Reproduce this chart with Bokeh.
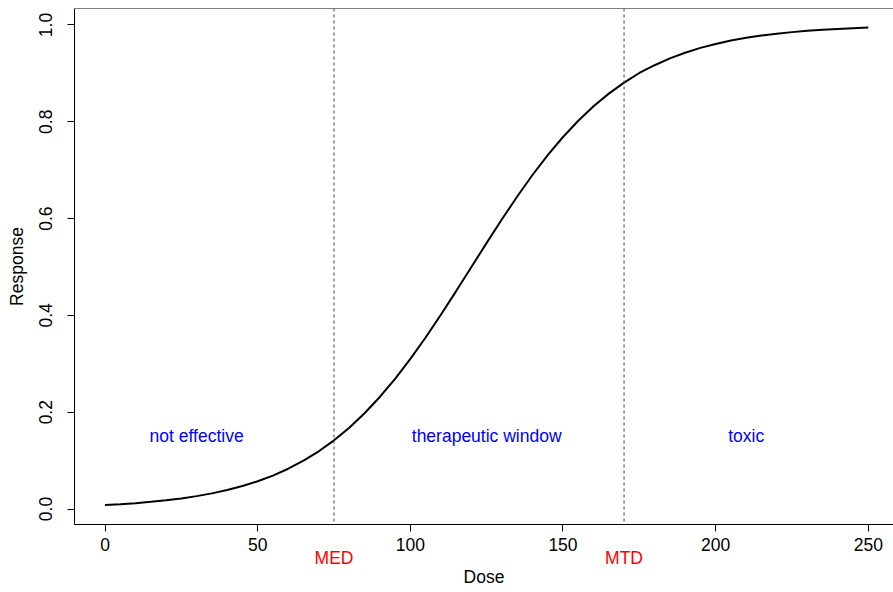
from bokeh.plotting import figure
from bokeh.models import Span, Label, FixedTicker, NumeralTickFormatter, Range1d, LinearAxis
from bokeh.embed import file_html
from bokeh.resources import INLINE

dose = [0, 5, 10, 15, 20, 25, 30, 35, 40, 45, 50, 55, 60, 65, 70, 75, 80, 85, 90, 95,
        100, 105, 110, 115, 120, 125, 130, 135, 140, 145, 150, 155, 160, 165, 170, 175,
        180, 185, 190, 195, 200, 205, 210, 215, 220, 225, 230, 235, 240, 245, 250]
response = [0.0082, 0.0100, 0.0121, 0.0148, 0.0180, 0.0219, 0.0266, 0.0323, 0.0392, 0.0474,
            0.0573, 0.0691, 0.0832, 0.0998, 0.1192, 0.1419, 0.1680, 0.1978, 0.2315, 0.2689,
            0.3100, 0.3543, 0.4013, 0.4502, 0.5000, 0.5498, 0.5987, 0.6457, 0.6900, 0.7311,
            0.7685, 0.8022, 0.8320, 0.8581, 0.8808, 0.9008, 0.9168, 0.9309, 0.9427, 0.9526,
            0.9608, 0.9677, 0.9734, 0.9781, 0.9820, 0.9852, 0.9879, 0.9900, 0.9918, 0.9933,
            0.9945]

x_ticks = [0, 50, 100, 150, 200, 250]
y_ticks = [0.0, 0.2, 0.4, 0.6, 0.8, 1.0]

med, mtd = 75, 170
threshold_names = ["MED", "MTD"]
zone_names = ["not effective", "therapeutic window", "toxic"]
zone_x = [30, 125, 210]
zone_y = 0.15

FONT = "Liberation Sans"
FS = "17.5px"

p = figure(width=893, height=592, output_backend="svg", toolbar_location=None,
           x_range=Range1d(-10, 258.25), y_range=Range1d(-0.032, 1.034),
           min_border_left=74, min_border_right=0, min_border_top=8, min_border_bottom=68)
p.outline_line_color = None
p.grid.visible = False
p.background_fill_color = "white"

p.line(dose, response, line_color="black", line_width=2)

for loc in [med, mtd]:
    p.add_layout(Span(location=loc, dimension="height", line_color="#444444",
                      line_dash="3 3", line_width=1))
p.add_layout(Span(location=1.034, dimension="width", line_color="black", line_width=1))

for name, xx in zip(zone_names, zone_x):
    p.add_layout(Label(x=xx, y=zone_y, text=name, text_color="#0000FF",
                       text_font=FONT, text_font_size=FS,
                       text_align="center", text_baseline="middle"))

for ax in [p.xaxis[0], p.yaxis[0]]:
    ax.axis_line_color = "black"
    ax.major_tick_line_color = "black"
    ax.major_tick_out = 7
    ax.major_tick_in = 0
    ax.minor_tick_line_color = None
    ax.major_label_text_font = FONT
    ax.major_label_text_font_size = FS
    ax.major_label_text_color = "black"
    ax.axis_label_text_font = FONT
    ax.axis_label_text_font_size = FS
    ax.axis_label_text_font_style = "normal"
    ax.axis_label_text_color = "black"

p.xaxis[0].ticker = FixedTicker(ticks=x_ticks)
p.yaxis[0].ticker = FixedTicker(ticks=y_ticks)
p.yaxis[0].formatter = NumeralTickFormatter(format="0.0")
p.yaxis[0].major_label_orientation = "vertical"
p.yaxis[0].axis_label = "Response"
p.xaxis[0].major_label_standoff = 6
p.yaxis[0].major_label_standoff = 15
p.yaxis[0].axis_label_standoff = 10

# second bottom axis carrying the MED / MTD markers and the "Dose" title
thr_axis = LinearAxis(ticker=FixedTicker(ticks=[med, mtd]),
                      major_label_overrides={med: threshold_names[0], mtd: threshold_names[1]},
                      axis_line_color=None, major_tick_line_color=None,
                      minor_tick_line_color=None, major_tick_out=0, major_tick_in=0,
                      major_label_standoff=-6,
                      major_label_text_font=FONT, major_label_text_font_size=FS,
                      major_label_text_color="#FF0000",
                      axis_label="Dose", axis_label_standoff=-4,
                      axis_label_text_font=FONT, axis_label_text_font_size=FS,
                      axis_label_text_font_style="normal", axis_label_text_color="black")
p.add_layout(thr_axis, "below")

open("out.html", "w").write(file_html(p, INLINE))
